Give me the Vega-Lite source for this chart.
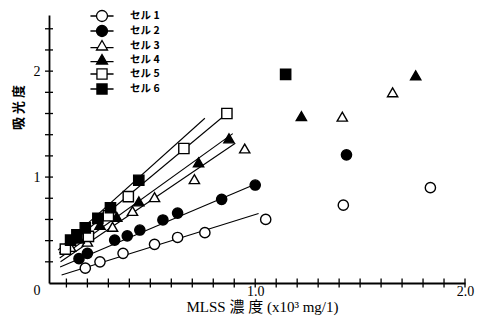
{
  "$schema": "https://vega.github.io/schema/vega-lite/v6.json",
  "width": 416,
  "height": 268,
  "autosize": {"type": "none"},
  "padding": {"left": 49, "top": 15, "right": 22, "bottom": 41},
  "background": "white",
  "config": {"view": {"stroke": null}, "font": "Liberation Serif"},
  "datasets": {
    "points": [
      {"cell": "セル 1", "x": 0.19, "y": 0.14},
      {"cell": "セル 1", "x": 0.26, "y": 0.2},
      {"cell": "セル 1", "x": 0.37, "y": 0.28},
      {"cell": "セル 1", "x": 0.52, "y": 0.365},
      {"cell": "セル 1", "x": 0.63, "y": 0.43},
      {"cell": "セル 1", "x": 0.76, "y": 0.475},
      {"cell": "セル 1", "x": 1.05, "y": 0.6},
      {"cell": "セル 1", "x": 1.42, "y": 0.735},
      {"cell": "セル 1", "x": 1.835, "y": 0.9},
      {"cell": "セル 2", "x": 0.16, "y": 0.23},
      {"cell": "セル 2", "x": 0.2, "y": 0.28},
      {"cell": "セル 2", "x": 0.33, "y": 0.405},
      {"cell": "セル 2", "x": 0.39, "y": 0.445},
      {"cell": "セル 2", "x": 0.45, "y": 0.5},
      {"cell": "セル 2", "x": 0.56, "y": 0.595},
      {"cell": "セル 2", "x": 0.63, "y": 0.66},
      {"cell": "セル 2", "x": 0.84, "y": 0.79},
      {"cell": "セル 2", "x": 1.0, "y": 0.925},
      {"cell": "セル 2", "x": 1.435, "y": 1.21},
      {"cell": "セル 3", "x": 0.12, "y": 0.34},
      {"cell": "セル 3", "x": 0.2, "y": 0.39},
      {"cell": "セル 3", "x": 0.32, "y": 0.53},
      {"cell": "セル 3", "x": 0.415, "y": 0.68},
      {"cell": "セル 3", "x": 0.52, "y": 0.81},
      {"cell": "セル 3", "x": 0.71, "y": 0.98},
      {"cell": "セル 3", "x": 0.95, "y": 1.27},
      {"cell": "セル 3", "x": 1.415, "y": 1.57},
      {"cell": "セル 3", "x": 1.655, "y": 1.8},
      {"cell": "セル 4", "x": 0.16, "y": 0.42},
      {"cell": "セル 4", "x": 0.26, "y": 0.55},
      {"cell": "セル 4", "x": 0.34, "y": 0.625},
      {"cell": "セル 4", "x": 0.445, "y": 0.77},
      {"cell": "セル 4", "x": 0.73, "y": 1.14},
      {"cell": "セル 4", "x": 0.875, "y": 1.365},
      {"cell": "セル 4", "x": 1.22, "y": 1.575},
      {"cell": "セル 4", "x": 1.765, "y": 1.96},
      {"cell": "セル 5", "x": 0.095, "y": 0.32},
      {"cell": "セル 5", "x": 0.205, "y": 0.44},
      {"cell": "セル 5", "x": 0.3, "y": 0.635},
      {"cell": "セル 5", "x": 0.395, "y": 0.815},
      {"cell": "セル 5", "x": 0.66, "y": 1.27},
      {"cell": "セル 5", "x": 0.865, "y": 1.6},
      {"cell": "セル 6", "x": 0.12, "y": 0.405},
      {"cell": "セル 6", "x": 0.15, "y": 0.455},
      {"cell": "セル 6", "x": 0.19, "y": 0.52},
      {"cell": "セル 6", "x": 0.25, "y": 0.61},
      {"cell": "セル 6", "x": 0.31, "y": 0.71},
      {"cell": "セル 6", "x": 0.445, "y": 0.97},
      {"cell": "セル 6", "x": 1.145, "y": 1.97}
    ],
    "lines": [
      {"line": "L1", "x": 0.077, "y": 0.075},
      {"line": "L1", "x": 1.016, "y": 0.657},
      {"line": "L2", "x": 0.07, "y": 0.15},
      {"line": "L2", "x": 1.008, "y": 0.94},
      {"line": "L3", "x": 0.072, "y": 0.2},
      {"line": "L3", "x": 0.905, "y": 1.32},
      {"line": "L4", "x": 0.068, "y": 0.236},
      {"line": "L4", "x": 0.893, "y": 1.41},
      {"line": "L5", "x": 0.066, "y": 0.283},
      {"line": "L5", "x": 0.865, "y": 1.6},
      {"line": "L6", "x": 0.06, "y": 0.31},
      {"line": "L6", "x": 0.76, "y": 1.555}
    ],
    "xticks": [
      {"x": 0.1, "y": 0}, {"x": 0.2, "y": 0}, {"x": 0.3, "y": 0}, {"x": 0.4, "y": 0}, {"x": 0.5, "y": 0},
      {"x": 0.6, "y": 0}, {"x": 0.7, "y": 0}, {"x": 0.8, "y": 0}, {"x": 0.9, "y": 0}, {"x": 1.0, "y": 0},
      {"x": 1.1, "y": 0}, {"x": 1.2, "y": 0}, {"x": 1.3, "y": 0}, {"x": 1.4, "y": 0}, {"x": 1.5, "y": 0},
      {"x": 1.6, "y": 0}, {"x": 1.7, "y": 0}, {"x": 1.8, "y": 0}, {"x": 1.9, "y": 0}, {"x": 2.0, "y": 0}
    ],
    "yticks": [
      {"x": 0.017, "y": 0.2}, {"x": 0.017, "y": 0.4}, {"x": 0.017, "y": 0.6}, {"x": 0.017, "y": 0.8},
      {"x": 0.017, "y": 1.0}, {"x": 0.017, "y": 1.2}, {"x": 0.017, "y": 1.4}, {"x": 0.017, "y": 1.6},
      {"x": 0.017, "y": 1.8}, {"x": 0.017, "y": 2.0}, {"x": 0.017, "y": 2.2}, {"x": 0.017, "y": 2.4}
    ]
  },
  "encoding": {
    "x": {
      "field": "x",
      "type": "quantitative",
      "scale": {"domain": [0.017, 2.0], "nice": false, "zero": false},
      "axis": {
        "values": [1.0, 2.0],
        "format": ".1f",
        "ticks": false,
        "domainColor": "black",
        "domainWidth": 1.8,
        "labelFont": "Liberation Serif",
        "labelFontSize": 14,
        "labelColor": "black",
        "labelBaseline": "middle",
        "labelPadding": 8,
        "labelFlush": false,
        "labelOverlap": false,
        "grid": false,
        "title": "MLSS 濃 度 (x10³ mg/1)",
        "titleFont": "Liberation Serif, Noto Sans CJK JP",
        "titleFontSize": 15,
        "titleFontWeight": "normal",
        "titleColor": "black",
        "titleX": 213,
        "titleY": 23,
        "titleAlign": "center",
        "titleBaseline": "middle"
      }
    },
    "y": {
      "field": "y",
      "type": "quantitative",
      "scale": {"domain": [0, 2.53], "nice": false},
      "axis": {
        "values": [0, 1, 2],
        "format": "d",
        "ticks": false,
        "domainColor": "black",
        "domainWidth": 1.8,
        "labelFont": "Liberation Serif",
        "labelFontSize": 14,
        "labelColor": "black",
        "labelPadding": 9,
        "labelBaseline": {"condition": {"test": "datum.value == 0", "value": "top"}, "value": "middle"},
        "labelFlush": false,
        "labelOverlap": false,
        "grid": false,
        "title": "吸 光 度",
        "titleFont": "Noto Sans CJK JP",
        "titleFontSize": 13,
        "titleFontWeight": "bold",
        "titleColor": "black",
        "titleAngle": -90,
        "titleX": -31,
        "titleY": 92,
        "titleAlign": "center",
        "titleBaseline": "middle"
      }
    }
  },
  "layer": [
    {
      "data": {"name": "xticks"},
      "mark": {"type": "tick", "color": "black", "thickness": 1.3, "size": 9, "orient": "vertical", "opacity": 1}
    },
    {
      "data": {"name": "yticks"},
      "mark": {"type": "tick", "color": "black", "thickness": 1.3, "size": 8, "orient": "horizontal", "opacity": 1}
    },
    {
      "data": {"name": "lines"},
      "mark": {"type": "line", "color": "black", "strokeWidth": 1.1},
      "encoding": {"detail": {"field": "line", "type": "nominal"}}
    },
    {
      "data": {"name": "points"},
      "mark": {"type": "point", "stroke": "black", "strokeWidth": 1.4, "size": 105, "opacity": 1},
      "encoding": {
        "shape": {
          "field": "cell",
          "type": "nominal",
          "scale": {
            "domain": ["セル 1", "セル 2", "セル 3", "セル 4", "セル 5", "セル 6"],
            "range": ["circle", "circle", "triangle-up", "triangle-up", "square", "square"]
          },
          "legend": null
        },
        "fill": {
          "field": "cell",
          "type": "nominal",
          "scale": {
            "domain": ["セル 1", "セル 2", "セル 3", "セル 4", "セル 5", "セル 6"],
            "range": ["white", "black", "white", "black", "white", "black"]
          },
          "legend": null
        }
      }
    },
    {
      "data": {"name": "points"},
      "mark": {"type": "point", "stroke": "black", "strokeWidth": 1.3, "size": 110, "opacity": 0},
      "encoding": {
        "shape": {
          "field": "cell",
          "type": "nominal",
          "scale": {
            "domain": ["セル 1", "セル 2", "セル 3", "セル 4", "セル 5", "セル 6"],
            "range": [
              "M-2.1,0H-1M1,0H2.1M1,0A1,1,0,1,1,-1,0A1,1,0,1,1,1,0Z",
              "M-2.1,0H-1M1,0H2.1M1,0A1,1,0,1,1,-1,0A1,1,0,1,1,1,0Z",
              "M-2.1,0.3H-0.76M0.76,0.3H2.1M0,-1L1,0.73H-1Z",
              "M-2.1,0.3H-0.76M0.76,0.3H2.1M0,-1L1,0.73H-1Z",
              "M-2.1,0H-0.92M0.92,0H2.1M-0.92,-0.92H0.92V0.92H-0.92Z",
              "M-2.1,0H-0.92M0.92,0H2.1M-0.92,-0.92H0.92V0.92H-0.92Z"
            ]
          },
          "legend": {
            "orient": "none",
            "legendX": 46.5,
            "legendY": -5.5,
            "title": null,
            "padding": 0,
            "symbolSize": 121,
            "rowPadding": -3.2,
            "labelOffset": 21.5,
            "labelFont": "Noto Sans CJK JP",
            "labelFontSize": 10.5,
            "labelFontWeight": "bold",
            "labelColor": "black",
            "symbolStrokeColor": "black",
            "symbolStrokeWidth": 1.3,
            "symbolOpacity": 1,
            "encode": {"symbols": {"update": {"opacity": {"value": 1}}}}
          }
        },
        "fill": {
          "field": "cell",
          "type": "nominal",
          "scale": {
            "domain": ["セル 1", "セル 2", "セル 3", "セル 4", "セル 5", "セル 6"],
            "range": ["white", "black", "white", "black", "white", "black"]
          },
          "legend": {
            "orient": "none",
            "legendX": 46.5,
            "legendY": -5.5,
            "title": null,
            "padding": 0,
            "symbolSize": 121,
            "rowPadding": -3.2,
            "labelOffset": 21.5,
            "labelFont": "Noto Sans CJK JP",
            "labelFontSize": 10.5,
            "labelFontWeight": "bold",
            "labelColor": "black",
            "symbolStrokeColor": "black",
            "symbolStrokeWidth": 1.3,
            "symbolOpacity": 1,
            "encode": {"symbols": {"update": {"opacity": {"value": 1}}}}
          }
        }
      }
    }
  ],
  "resolve": {"scale": {"shape": "independent", "fill": "independent"}}
}
